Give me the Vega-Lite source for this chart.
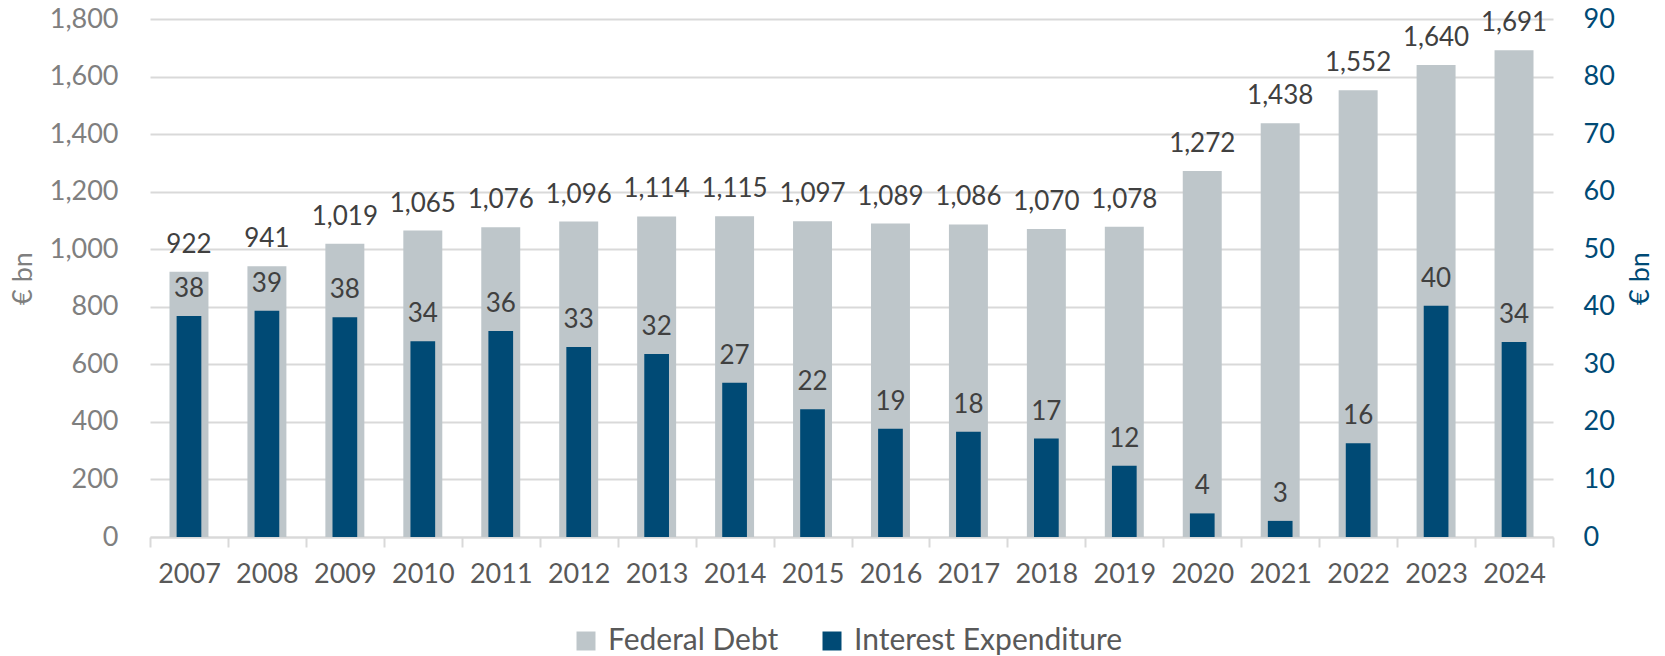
{
  "$schema": "https://vega.github.io/schema/vega-lite/v6.json",
  "width": 1403,
  "height": 518,
  "autosize": {"type": "none"},
  "padding": {"left": 150, "top": 19, "right": 112, "bottom": 119},
  "config": {
    "font": "Lato",
    "view": {"stroke": null},
    "axis": {"labelFontSize": 27, "titleFontSize": 27, "titleFontWeight": "normal"}
  },
  "data": {
    "values": [
      {"year": "2007", "debt": 922, "interest": 38.4},
      {"year": "2008", "debt": 941, "interest": 39.3},
      {"year": "2009", "debt": 1019, "interest": 38.2},
      {"year": "2010", "debt": 1065, "interest": 34.0},
      {"year": "2011", "debt": 1076, "interest": 35.8},
      {"year": "2012", "debt": 1096, "interest": 33.0},
      {"year": "2013", "debt": 1114, "interest": 31.8},
      {"year": "2014", "debt": 1115, "interest": 26.8},
      {"year": "2015", "debt": 1097, "interest": 22.2},
      {"year": "2016", "debt": 1089, "interest": 18.8},
      {"year": "2017", "debt": 1086, "interest": 18.3},
      {"year": "2018", "debt": 1070, "interest": 17.1},
      {"year": "2019", "debt": 1078, "interest": 12.4},
      {"year": "2020", "debt": 1272, "interest": 4.1},
      {"year": "2021", "debt": 1438, "interest": 2.8},
      {"year": "2022", "debt": 1552, "interest": 16.3},
      {"year": "2023", "debt": 1640, "interest": 40.2},
      {"year": "2024", "debt": 1691, "interest": 33.9}
    ]
  },
  "encoding": {
    "x": {
      "field": "year",
      "type": "ordinal",
      "scale": {"paddingInner": 0, "paddingOuter": 0},
      "axis": {
        "title": null,
        "labelAngle": 0,
        "labelColor": "#595959",
        "labelPadding": 14,
        "tickBand": "extent",
        "tickColor": "#d9d9d9",
        "tickSize": 10,
        "tickWidth": 2,
        "domainColor": "#d9d9d9",
        "domainWidth": 2
      }
    }
  },
  "layer": [
    {
      "encoding": {
        "y": {
          "field": "debt",
          "type": "quantitative",
          "scale": {"domain": [0, 1800]},
          "axis": {
            "title": "€ bn",
            "titleColor": "#7f7f7f",
            "titlePadding": 12,
            "values": [0, 200, 400, 600, 800, 1000, 1200, 1400, 1600, 1800],
            "format": ",.0f",
            "labelColor": "#7f7f7f",
            "labelPadding": 32,
            "ticks": false,
            "domain": false,
            "grid": true,
            "gridColor": "#d9d9d9",
            "gridWidth": 2
          }
        }
      },
      "layer": [
        {
          "mark": {"type": "bar", "width": {"band": 0.5}},
          "encoding": {
            "color": {
              "datum": "Federal Debt",
              "type": "nominal",
              "scale": {
                "domain": ["Federal Debt", "Interest Expenditure"],
                "range": ["#bec6ca", "#004a75"]
              },
              "legend": {
                "title": null,
                "orient": "none",
                "legendX": 421,
                "legendY": 607,
                "direction": "horizontal",
                "symbolType": "square",
                "symbolSize": 361,
                "symbolStrokeWidth": 0,
                "labelFontSize": 30,
                "labelColor": "#595959",
                "labelOffset": 7,
                "labelLimit": 500,
                "columnPadding": 38
              }
            }
          }
        },
        {
          "mark": {"type": "text", "baseline": "alphabetic", "dy": -19, "fontSize": 26, "color": "#404040"},
          "encoding": {"text": {"field": "debt", "type": "quantitative", "format": ",.0f"}}
        }
      ]
    },
    {
      "encoding": {
        "y": {
          "field": "interest",
          "type": "quantitative",
          "scale": {"domain": [0, 90]},
          "axis": {
            "orient": "right",
            "title": "€ bn",
            "titleColor": "#004a75",
            "titleAngle": 270,
            "titlePadding": 40,
            "values": [0, 10, 20, 30, 40, 50, 60, 70, 80, 90],
            "labelColor": "#004a75",
            "labelPadding": 30,
            "ticks": false,
            "domain": false,
            "grid": false
          }
        }
      },
      "layer": [
        {
          "mark": {"type": "bar", "width": {"band": 0.317}},
          "encoding": {
            "color": {"datum": "Interest Expenditure", "type": "nominal"}
          }
        },
        {
          "mark": {"type": "text", "baseline": "alphabetic", "dy": -19, "fontSize": 26, "color": "#404040"},
          "encoding": {"text": {"field": "interest", "type": "quantitative", "format": ".0f"}}
        }
      ]
    }
  ],
  "resolve": {"scale": {"y": "independent"}}
}
